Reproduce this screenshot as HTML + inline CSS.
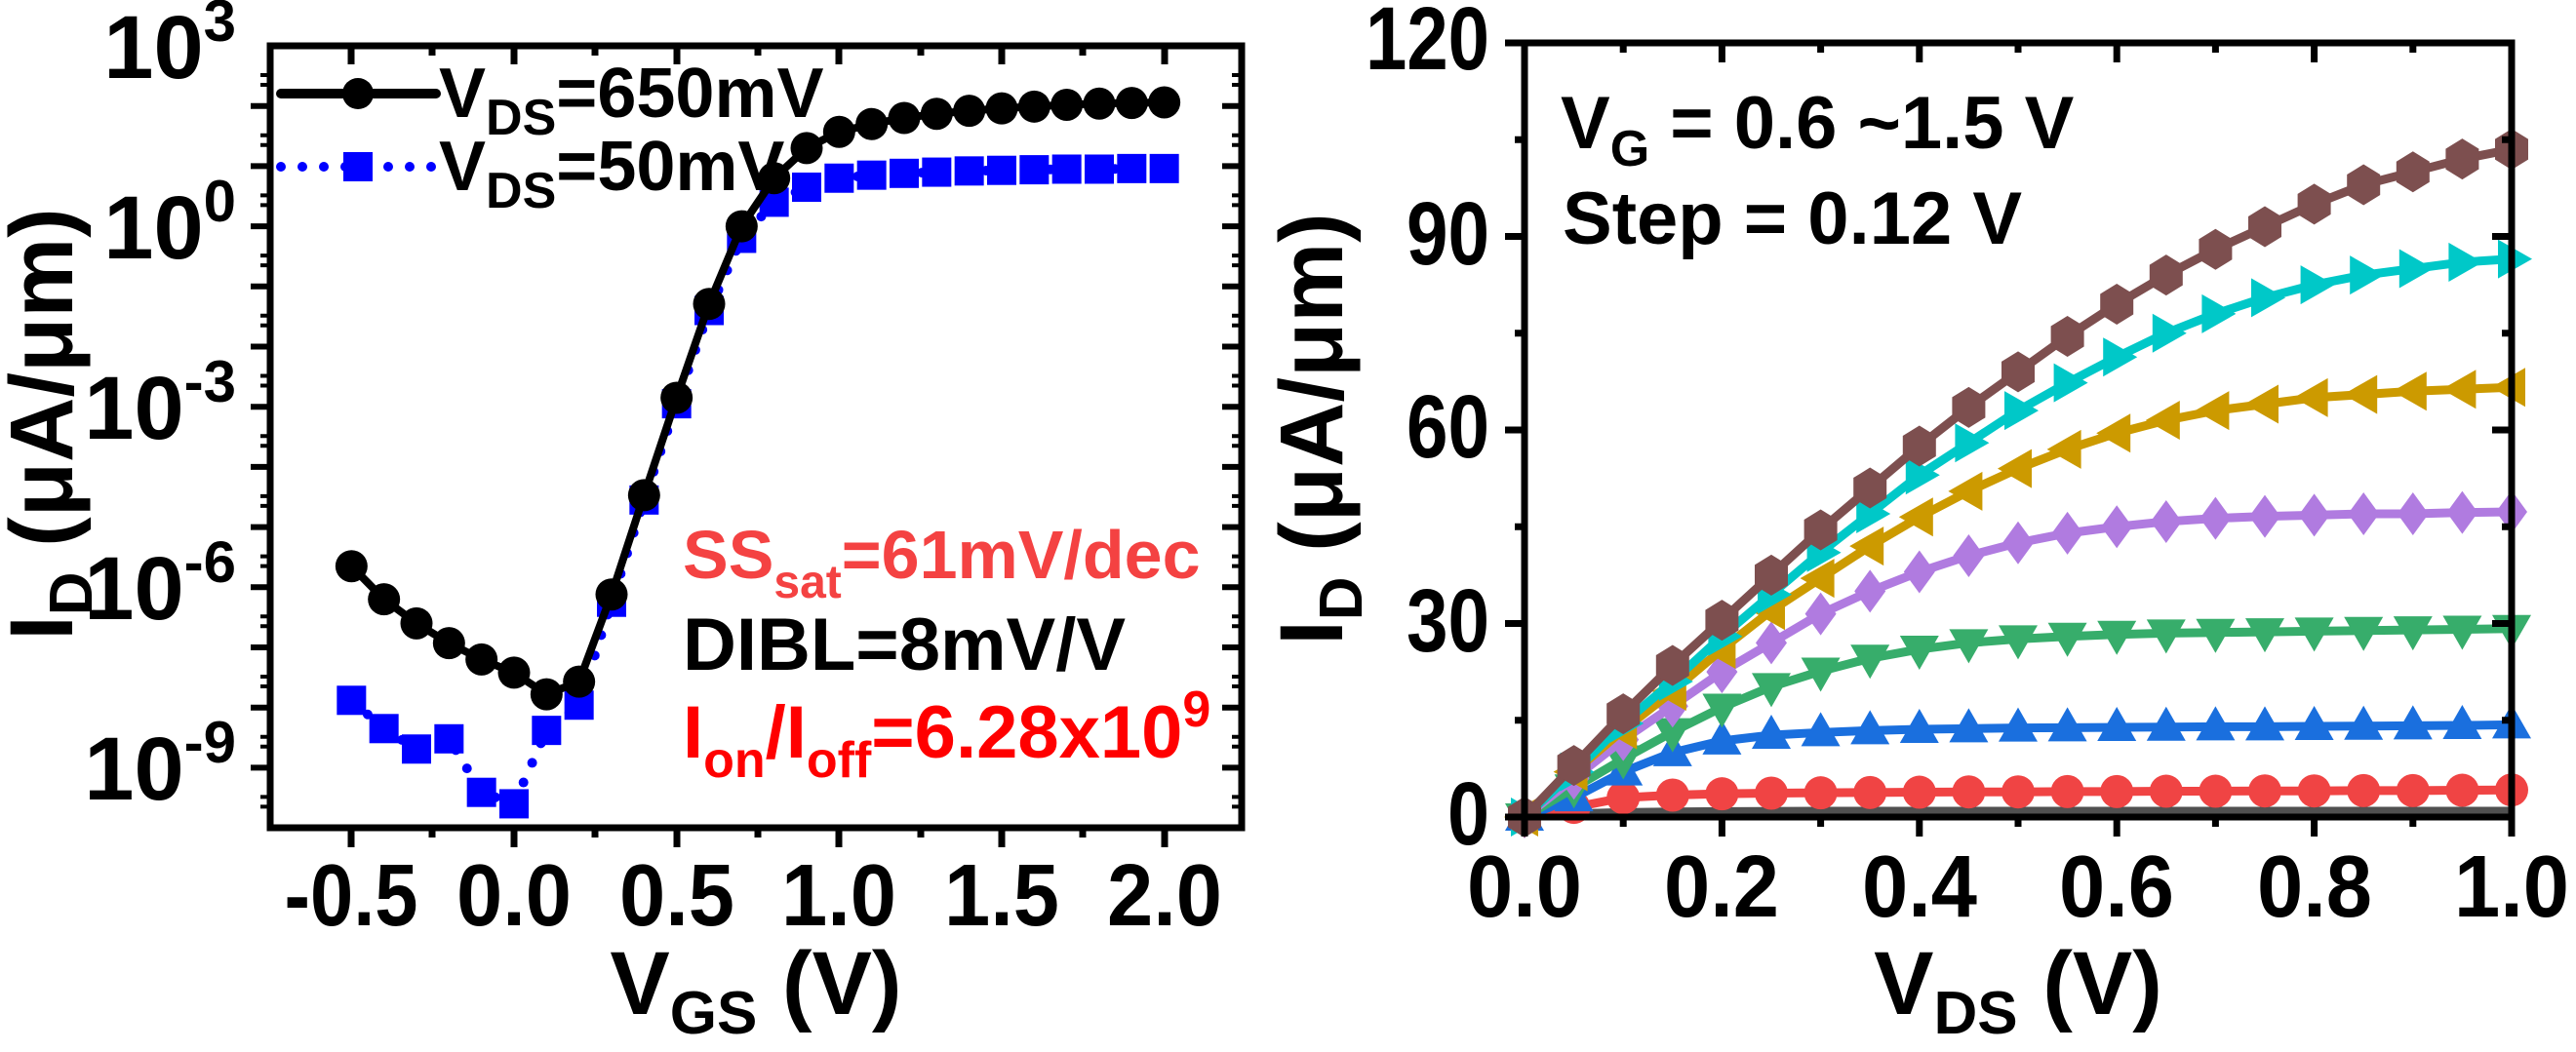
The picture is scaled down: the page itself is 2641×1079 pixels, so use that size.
<!DOCTYPE html>
<html><head><meta charset="utf-8"><style>
html,body{margin:0;padding:0;background:#fff;}
svg{display:block;}
text{font-family:"Liberation Sans",Arial,sans-serif;font-weight:bold;}
</style></head><body>
<svg width="2641" height="1079" viewBox="0 0 2641 1079" xmlns="http://www.w3.org/2000/svg">
<defs>
 <marker id="mBc" markerUnits="userSpaceOnUse" markerWidth="1" markerHeight="1" refX="0" refY="0" overflow="visible"><g transform="scale(0.0030003,-0.016207)"><circle r="16.5" fill="#000"/></g></marker>
 <marker id="mBs" markerUnits="userSpaceOnUse" markerWidth="1" markerHeight="1" refX="0" refY="0" overflow="visible"><g transform="scale(0.0030003,-0.016207)"><rect x="-15" y="-15" width="30" height="30" fill="#0000ff"/></g></marker>
 <marker id="rC" markerUnits="userSpaceOnUse" markerWidth="1" markerHeight="1" overflow="visible"><g transform="scale(0.000988,-0.15113)"><circle r="17" fill="#f04444"/></g></marker>
 <marker id="rUp" markerUnits="userSpaceOnUse" markerWidth="1" markerHeight="1" overflow="visible"><g transform="scale(0.000988,-0.15113)"><polygon points="0,-21 20,14 -20,14" fill="#1a6fde"/></g></marker>
 <marker id="rDn" markerUnits="userSpaceOnUse" markerWidth="1" markerHeight="1" overflow="visible"><g transform="scale(0.000988,-0.15113)"><polygon points="0,21 20,-14 -20,-14" fill="#37ad6b"/></g></marker>
 <marker id="rDi" markerUnits="userSpaceOnUse" markerWidth="1" markerHeight="1" overflow="visible"><g transform="scale(0.000988,-0.15113)"><polygon points="0,-22 16,0 0,22 -16,0" fill="#b07be0"/></g></marker>
 <marker id="rLt" markerUnits="userSpaceOnUse" markerWidth="1" markerHeight="1" overflow="visible"><g transform="scale(0.000988,-0.15113)"><polygon points="-21,0 14,-20 14,20" fill="#cc9a00"/></g></marker>
 <marker id="rRt" markerUnits="userSpaceOnUse" markerWidth="1" markerHeight="1" overflow="visible"><g transform="scale(0.000988,-0.15113)"><polygon points="21,0 -14,-20 -14,20" fill="#00c8c8"/></g></marker>
 <marker id="rHx" markerUnits="userSpaceOnUse" markerWidth="1" markerHeight="1" overflow="visible"><g transform="scale(0.000988,-0.15113)"><polygon points="0,-21 17,-10.5 17,10.5 0,21 -17,10.5 -17,-10.5" fill="#7d4f4f"/></g></marker>
</defs>

<!-- ============ LEFT PLOT ============ -->
<g transform="translate(527,232.1) scale(333.33,-61.7)">
 <polyline fill="none" stroke="#0000ff" stroke-width="10" stroke-linecap="round" stroke-dasharray="0 22" vector-effect="non-scaling-stroke"
  marker-start="url(#mBs)" marker-mid="url(#mBs)" marker-end="url(#mBs)"
  points="-0.5,-7.88 -0.4,-8.35 -0.3,-8.69 -0.2,-8.52 -0.1,-9.41 0,-9.6 0.1,-8.38 0.2,-7.96 0.3,-6.25 0.4,-4.55 0.5,-2.95 0.6,-1.4 0.7,-0.2 0.8,0.4 0.9,0.65 1.0,0.8 1.1,0.85 1.2,0.88 1.3,0.9 1.4,0.92 1.5,0.93 1.6,0.94 1.7,0.95 1.8,0.95 1.9,0.96 2.0,0.96"/>
 <polyline fill="none" stroke="#000" stroke-width="8" stroke-linejoin="round" vector-effect="non-scaling-stroke"
  marker-start="url(#mBc)" marker-mid="url(#mBc)" marker-end="url(#mBc)"
  points="-0.5,-5.65 -0.4,-6.2 -0.3,-6.6 -0.2,-6.93 -0.1,-7.2 0,-7.42 0.1,-7.78 0.2,-7.57 0.3,-6.12 0.4,-4.47 0.5,-2.85 0.6,-1.29 0.7,0.0 0.8,0.8 0.9,1.3 1.0,1.57 1.1,1.7 1.2,1.8 1.3,1.87 1.4,1.92 1.5,1.96 1.6,1.99 1.7,2.02 1.8,2.04 1.9,2.05 2.0,2.06"/>
</g>
<rect x="277" y="47" width="996" height="802" fill="none" stroke="#000" stroke-width="7"/>
<g stroke="#000" stroke-width="7">
 <line x1="360" y1="849" x2="360" y2="869"/><line x1="527" y1="849" x2="527" y2="869"/><line x1="694" y1="849" x2="694" y2="869"/><line x1="860" y1="849" x2="860" y2="869"/><line x1="1027" y1="849" x2="1027" y2="869"/><line x1="1194" y1="849" x2="1194" y2="869"/>
 <line x1="443" y1="849" x2="443" y2="859"/><line x1="610" y1="849" x2="610" y2="859"/><line x1="777" y1="849" x2="777" y2="859"/><line x1="944" y1="849" x2="944" y2="859"/><line x1="1110" y1="849" x2="1110" y2="859"/>
 <line x1="360" y1="47" x2="360" y2="66"/><line x1="527" y1="47" x2="527" y2="66"/><line x1="694" y1="47" x2="694" y2="66"/><line x1="860" y1="47" x2="860" y2="66"/><line x1="1027" y1="47" x2="1027" y2="66"/><line x1="1194" y1="47" x2="1194" y2="66"/>
 <line x1="443" y1="47" x2="443" y2="57"/><line x1="610" y1="47" x2="610" y2="57"/><line x1="777" y1="47" x2="777" y2="57"/><line x1="944" y1="47" x2="944" y2="57"/><line x1="1110" y1="47" x2="1110" y2="57"/>
</g>
<g stroke="#000" stroke-width="6">
 <path d="M257,108.7H277 M257,170.4H277 M257,232.1H277 M257,293.8H277 M257,355.5H277 M257,417.2H277 M257,478.9H277 M257,540.6H277 M257,602.3H277 M257,664H277 M257,725.7H277 M257,787.4H277
  M1273,108.7H1253 M1273,170.4H1253 M1273,232.1H1253 M1273,293.8H1253 M1273,355.5H1253 M1273,417.2H1253 M1273,478.9H1253 M1273,540.6H1253 M1273,602.3H1253 M1273,664H1253 M1273,725.7H1253 M1273,787.4H1253"/>
 <path stroke-width="4" d="M267,77H277 M267,87H277 M267,138.7H277 M267,148.7H277 M267,200.4H277 M267,210.4H277 M267,262.1H277 M267,272.1H277 M267,323.8H277 M267,333.8H277 M267,385.5H277 M267,395.5H277 M267,447.2H277 M267,457.2H277 M267,508.9H277 M267,518.9H277 M267,570.6H277 M267,580.6H277 M267,632.3H277 M267,642.3H277 M267,694H277 M267,704H277 M267,755.7H277 M267,765.7H277 M267,817.4H277 M267,827.4H277
  M1273,77H1263 M1273,87H1263 M1273,138.7H1263 M1273,148.7H1263 M1273,200.4H1263 M1273,210.4H1263 M1273,262.1H1263 M1273,272.1H1263 M1273,323.8H1263 M1273,333.8H1263 M1273,385.5H1263 M1273,395.5H1263 M1273,447.2H1263 M1273,457.2H1263 M1273,508.9H1263 M1273,518.9H1263 M1273,570.6H1263 M1273,580.6H1263 M1273,632.3H1263 M1273,642.3H1263 M1273,694H1263 M1273,704H1263 M1273,755.7H1263 M1273,765.7H1263 M1273,817.4H1263 M1273,827.4H1263"/>
</g>
<g font-size="92" text-anchor="end" fill="#000">
 <text x="242" y="80">10<tspan dy="-38" font-size="60">3</tspan></text>
 <text x="242" y="265">10<tspan dy="-38" font-size="60">0</tspan></text>
 <text x="242" y="450">10<tspan dy="-38" font-size="60">-3</tspan></text>
 <text x="242" y="635">10<tspan dy="-38" font-size="60">-6</tspan></text>
 <text x="242" y="820">10<tspan dy="-38" font-size="60">-9</tspan></text>
</g>
<g font-size="90" text-anchor="middle" fill="#000">
 <text x="360" y="949" textLength="137" lengthAdjust="spacingAndGlyphs">-0.5</text><text x="527" y="949" textLength="118" lengthAdjust="spacingAndGlyphs">0.0</text><text x="694" y="949" textLength="118" lengthAdjust="spacingAndGlyphs">0.5</text><text x="860" y="949" textLength="118" lengthAdjust="spacingAndGlyphs">1.0</text><text x="1027" y="949" textLength="118" lengthAdjust="spacingAndGlyphs">1.5</text><text x="1194" y="949" textLength="118" lengthAdjust="spacingAndGlyphs">2.0</text>
</g>
<text x="775" y="1040" font-size="92" text-anchor="middle">V<tspan font-size="62" dy="20">GS</tspan><tspan dy="-20"> (V)</tspan></text>
<text transform="translate(74,435) rotate(-90)" font-size="92" text-anchor="middle">I<tspan font-size="62" dy="20">D</tspan><tspan dy="-20"> (μA/μm)</tspan></text>
<line x1="288" y1="96" x2="447" y2="96" stroke="#000" stroke-width="10" stroke-linecap="round"/>
<circle cx="367" cy="96" r="16" fill="#000"/>
<line x1="288" y1="171" x2="447" y2="171" stroke="#0000ff" stroke-width="10" stroke-linecap="round" stroke-dasharray="0 22"/>
<rect x="352" y="156" width="30" height="30" fill="#0000ff"/>
<text x="450" y="120" font-size="72">V<tspan font-size="52" dy="18">DS</tspan><tspan dy="-18">=650mV</tspan></text>
<text x="450" y="195" font-size="72">V<tspan font-size="52" dy="18">DS</tspan><tspan dy="-18">=50mV</tspan></text>
<text x="700" y="593" font-size="70" fill="#f44242">SS<tspan font-size="48" dy="20">sat</tspan><tspan dy="-20">=61mV/dec</tspan></text>
<text x="700" y="687" font-size="76" fill="#000">DIBL=8mV/V</text>
<text x="700" y="777" font-size="76" fill="#ff0000">I<tspan font-size="52" dy="20">on</tspan><tspan dy="-20">/I</tspan><tspan font-size="52" dy="20">off</tspan><tspan dy="-20">=6.28x10</tspan><tspan font-size="52" dy="-32">9</tspan></text>

<!-- ============ RIGHT PLOT ============ -->
<g transform="translate(1563,838) scale(1012,-6.617)" fill="none" stroke-width="9" stroke-linejoin="round">
 <polyline stroke="#505050" vector-effect="non-scaling-stroke" points="0,0 0.05,0.5 0.1,0.7 0.15,0.8 0.2,0.85 0.3,0.9 0.5,0.9 1.0,0.9"/>
 <polyline stroke="#f04444" vector-effect="non-scaling-stroke" marker-start="url(#rC)" marker-mid="url(#rC)" marker-end="url(#rC)"
  points="0,0 0.05,1.5 0.1,3.0 0.15,3.4 0.2,3.6 0.25,3.7 0.3,3.75 0.35,3.8 0.4,3.85 0.45,3.9 0.5,3.9 0.55,3.95 0.6,3.95 0.65,4.0 0.7,4.0 0.75,4.05 0.8,4.05 0.85,4.1 0.9,4.1 0.95,4.15 1.0,4.2"/>
 <polyline stroke="#1a6fde" vector-effect="non-scaling-stroke" marker-start="url(#rUp)" marker-mid="url(#rUp)" marker-end="url(#rUp)"
  points="0,0 0.05,3 0.1,7 0.15,10 0.2,11.8 0.25,12.7 0.3,13.1 0.35,13.4 0.4,13.6 0.45,13.7 0.5,13.8 0.55,13.85 0.6,13.9 0.65,13.95 0.7,14 0.75,14 0.8,14.05 0.85,14.1 0.9,14.15 0.95,14.2 1.0,14.3"/>
 <polyline stroke="#37ad6b" vector-effect="non-scaling-stroke" marker-start="url(#rDn)" marker-mid="url(#rDn)" marker-end="url(#rDn)"
  points="0,0 0.05,4.5 0.1,9 0.15,13.2 0.2,17 0.25,20.2 0.3,22.6 0.35,24.6 0.4,26 0.45,27 0.5,27.6 0.55,28 0.6,28.3 0.65,28.5 0.7,28.6 0.75,28.7 0.8,28.8 0.85,28.9 0.9,29 0.95,29.1 1.0,29.2"/>
 <polyline stroke="#b07be0" vector-effect="non-scaling-stroke" marker-start="url(#rDi)" marker-mid="url(#rDi)" marker-end="url(#rDi)"
  points="0,0 0.05,6 0.1,12 0.15,17.2 0.2,22.5 0.25,27 0.3,31.5 0.35,35 0.4,38 0.45,40.5 0.5,42.5 0.55,44 0.6,45 0.65,45.8 0.7,46.3 0.75,46.6 0.8,46.8 0.85,47 0.9,47 0.95,47.2 1.0,47.3"/>
 <polyline stroke="#cc9a00" vector-effect="non-scaling-stroke" marker-start="url(#rLt)" marker-mid="url(#rLt)" marker-end="url(#rLt)"
  points="0,0 0.05,7 0.1,13.5 0.15,19.5 0.2,26 0.25,32 0.3,37 0.35,42 0.4,46.5 0.45,50.5 0.5,54 0.55,57 0.6,59.5 0.65,61.5 0.7,63 0.75,64 0.8,65 0.85,65.5 0.9,66 0.95,66.3 1.0,66.6"/>
 <polyline stroke="#00c8c8" vector-effect="non-scaling-stroke" marker-start="url(#rRt)" marker-mid="url(#rRt)" marker-end="url(#rRt)"
  points="0,0 0.05,7 0.1,14.5 0.15,21 0.2,28 0.25,34.5 0.3,41 0.35,47 0.4,53 0.45,58 0.5,63 0.55,67.3 0.6,71.3 0.65,75 0.7,78 0.75,80.5 0.8,82.5 0.85,84 0.9,85 0.95,86 1.0,86.5"/>
 <polyline stroke="#7d4f4f" vector-effect="non-scaling-stroke" marker-start="url(#rHx)" marker-mid="url(#rHx)" marker-end="url(#rHx)"
  points="0,0 0.05,8 0.1,16 0.15,23.5 0.2,30.5 0.25,37.5 0.3,44.5 0.35,51 0.4,57.5 0.45,63.5 0.5,69 0.55,74.5 0.6,79.5 0.65,84 0.7,88 0.75,91.5 0.8,95 0.85,98 0.9,100 0.95,102 1.0,103.5"/>
</g>
<rect x="1563" y="44" width="1012" height="794" fill="none" stroke="#000" stroke-width="7"/>
<g stroke="#000" stroke-width="7">
 <path d="M1563,838V858 M1765.4,838V858 M1967.8,838V858 M2170.2,838V858 M2372.6,838V858 M2575,838V858"/>
 <path d="M1664.2,838V848 M1866.6,838V848 M2069,838V848 M2271.4,838V848 M2473.8,838V848"/>
 <path d="M1765.4,44V64 M1967.8,44V64 M2170.2,44V64 M2372.6,44V64"/>
 <path d="M1664.2,44V54 M1866.6,44V54 M2069,44V54 M2271.4,44V54 M2473.8,44V54"/>
 <path d="M1543,838H1563 M1543,639.5H1563 M1543,441H1563 M1543,242.5H1563 M1543,44H1563"/>
 <path d="M1553,738.8H1563 M1553,540.3H1563 M1553,341.8H1563 M1553,143.3H1563"/>
 <path d="M2575,639.5H2555 M2575,441H2555 M2575,242.5H2555"/>
 <path d="M2575,738.8H2565 M2575,540.3H2565 M2575,341.8H2565 M2575,143.3H2565"/>
</g>
<g font-size="92" text-anchor="end">
 <text x="1527" y="71" textLength="127" lengthAdjust="spacingAndGlyphs">120</text><text x="1527" y="271" textLength="85" lengthAdjust="spacingAndGlyphs">90</text><text x="1527" y="469" textLength="85" lengthAdjust="spacingAndGlyphs">60</text><text x="1527" y="668" textLength="85" lengthAdjust="spacingAndGlyphs">30</text><text x="1527" y="866" textLength="43" lengthAdjust="spacingAndGlyphs">0</text>
</g>
<g font-size="90" text-anchor="middle">
 <text x="1563" y="940" textLength="118" lengthAdjust="spacingAndGlyphs">0.0</text><text x="1765" y="940" textLength="118" lengthAdjust="spacingAndGlyphs">0.2</text><text x="1968" y="940" textLength="118" lengthAdjust="spacingAndGlyphs">0.4</text><text x="2170" y="940" textLength="118" lengthAdjust="spacingAndGlyphs">0.6</text><text x="2373" y="940" textLength="118" lengthAdjust="spacingAndGlyphs">0.8</text><text x="2575" y="940" textLength="118" lengthAdjust="spacingAndGlyphs">1.0</text>
</g>
<text x="2069" y="1040" font-size="92" text-anchor="middle">V<tspan font-size="62" dy="20">DS</tspan><tspan dy="-20"> (V)</tspan></text>
<text transform="translate(1376,440) rotate(-90)" font-size="92" text-anchor="middle">I<tspan font-size="62" dy="20">D</tspan><tspan dy="-20"> (μA/μm)</tspan></text>
<text x="1600" y="152" font-size="76">V<tspan font-size="52" dy="18">G</tspan><tspan dy="-18"> = 0.6 ~1.5 V</tspan></text>
<text x="1602" y="250" font-size="76">Step = 0.12 V</text>
</svg>
</body></html>
